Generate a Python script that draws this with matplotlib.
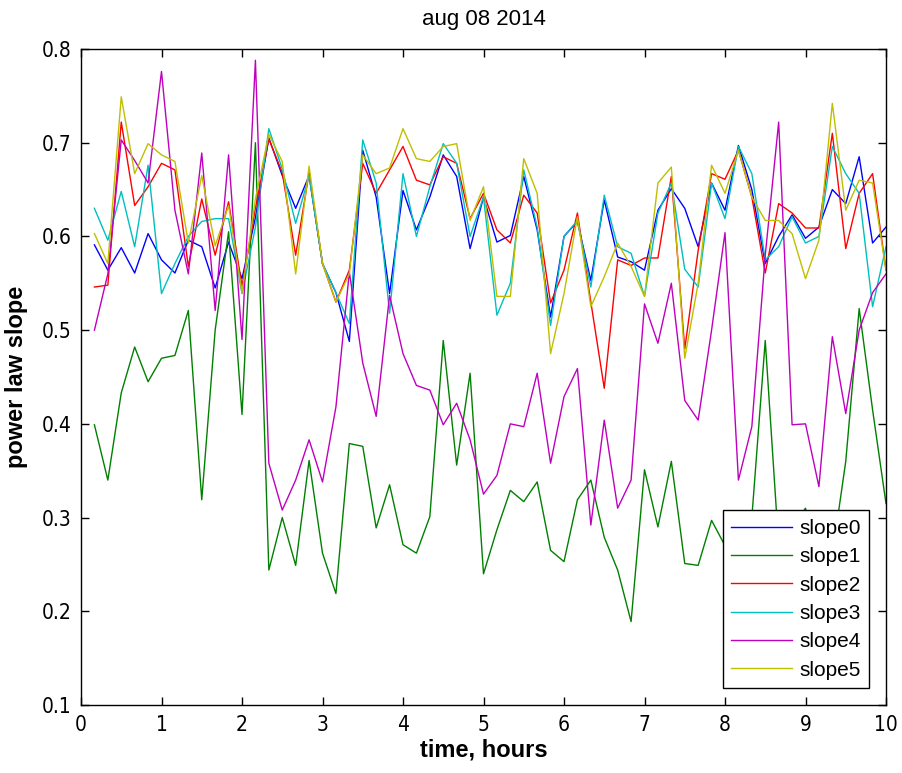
import numpy as np
import matplotlib
matplotlib.use("Agg")
import matplotlib.pyplot as plt

# time axis: 10-minute samples
time_hours = np.arange(1, 61) / 6.0

slope0 = [0.591, 0.564, 0.588, 0.561, 0.603, 0.575, 0.561, 0.596, 0.589, 0.545,
          0.594, 0.555, 0.620, 0.705, 0.665, 0.630, 0.665, 0.571, 0.540, 0.488,
          0.692, 0.642, 0.539, 0.649, 0.607, 0.642, 0.687, 0.664, 0.587, 0.642,
          0.594, 0.601, 0.664, 0.607, 0.514, 0.600, 0.616, 0.553, 0.639, 0.578,
          0.573, 0.564, 0.628, 0.651, 0.630, 0.589, 0.657, 0.628, 0.697, 0.650,
          0.571, 0.600, 0.623, 0.598, 0.610, 0.650, 0.635, 0.685, 0.593, 0.610]
slope1 = [0.399, 0.340, 0.433, 0.482, 0.445, 0.470, 0.473, 0.521, 0.319, 0.500,
          0.605, 0.410, 0.700, 0.244, 0.300, 0.249, 0.361, 0.262, 0.219, 0.379,
          0.376, 0.289, 0.335, 0.271, 0.262, 0.301, 0.489, 0.356, 0.454, 0.240,
          0.287, 0.329, 0.317, 0.338, 0.265, 0.253, 0.319, 0.340, 0.279, 0.244,
          0.189, 0.351, 0.290, 0.360, 0.251, 0.249, 0.297, 0.270, 0.300, 0.300,
          0.489, 0.270, 0.290, 0.310, 0.250, 0.260, 0.360, 0.523, 0.415, 0.315]
slope2 = [0.546, 0.548, 0.722, 0.633, 0.653, 0.678, 0.671, 0.568, 0.640, 0.580,
          0.637, 0.547, 0.630, 0.704, 0.668, 0.580, 0.668, 0.571, 0.530, 0.564,
          0.678, 0.646, 0.671, 0.696, 0.660, 0.655, 0.685, 0.678, 0.619, 0.646,
          0.607, 0.593, 0.644, 0.625, 0.529, 0.564, 0.625, 0.530, 0.438, 0.575,
          0.569, 0.577, 0.577, 0.664, 0.480, 0.585, 0.667, 0.661, 0.692, 0.642,
          0.561, 0.635, 0.625, 0.609, 0.609, 0.710, 0.587, 0.646, 0.667, 0.564]
slope3 = [0.630, 0.596, 0.648, 0.589, 0.676, 0.539, 0.571, 0.600, 0.616, 0.619,
          0.619, 0.539, 0.610, 0.715, 0.672, 0.614, 0.665, 0.571, 0.540, 0.507,
          0.703, 0.657, 0.518, 0.667, 0.600, 0.653, 0.699, 0.678, 0.600, 0.642,
          0.516, 0.550, 0.671, 0.610, 0.505, 0.600, 0.617, 0.546, 0.644, 0.589,
          0.582, 0.536, 0.625, 0.657, 0.565, 0.546, 0.657, 0.619, 0.696, 0.667,
          0.575, 0.589, 0.621, 0.593, 0.600, 0.696, 0.667, 0.646, 0.525, 0.589]
slope4 = [0.500, 0.560, 0.703, 0.681, 0.657, 0.776, 0.628, 0.560, 0.689, 0.521,
          0.687, 0.490, 0.788, 0.358, 0.308, 0.340, 0.383, 0.338, 0.418, 0.562,
          0.465, 0.408, 0.537, 0.475, 0.441, 0.436, 0.399, 0.422, 0.383, 0.325,
          0.345, 0.400, 0.397, 0.454, 0.358, 0.429, 0.459, 0.292, 0.404, 0.310,
          0.340, 0.528, 0.486, 0.550, 0.425, 0.404, 0.500, 0.604, 0.340, 0.397,
          0.580, 0.722, 0.399, 0.400, 0.333, 0.493, 0.411, 0.500, 0.540, 0.560]
slope5 = [0.603, 0.571, 0.749, 0.667, 0.699, 0.687, 0.680, 0.593, 0.665, 0.590,
          0.633, 0.540, 0.640, 0.709, 0.680, 0.560, 0.675, 0.571, 0.530, 0.560,
          0.687, 0.667, 0.673, 0.715, 0.683, 0.680, 0.696, 0.699, 0.617, 0.653,
          0.536, 0.536, 0.683, 0.646, 0.475, 0.539, 0.621, 0.525, 0.557, 0.593,
          0.568, 0.536, 0.657, 0.674, 0.470, 0.550, 0.676, 0.646, 0.692, 0.642,
          0.617, 0.617, 0.603, 0.555, 0.596, 0.742, 0.628, 0.660, 0.657, 0.564]

series_names = ["slope0", "slope1", "slope2", "slope3", "slope4", "slope5"]
series_values = [slope0, slope1, slope2, slope3, slope4, slope5]
series_colors = ["#0000ff", "#008000", "#ff0000", "#00bfbf", "#bf00bf", "#bfbf00"]

x_ticks = list(range(0, 11))
y_ticks = [0.1, 0.2, 0.3, 0.4, 0.5, 0.6, 0.7, 0.8]

plt.rcParams["font.family"] = ["Liberation Sans", "DejaVu Sans"]

fig = plt.figure(figsize=(9.02, 7.73), dpi=100)
ax = fig.add_axes([81 / 902, 1 - 705 / 773, (886 - 81) / 902, (705 - 49) / 773])

for name, vals, col in zip(series_names, series_values, series_colors):
    ax.plot(time_hours, vals, color=col, lw=1.0, label=name)

ax.set_xlim(0, 10)
ax.set_ylim(0.1, 0.8)
ax.set_xticks(x_ticks)
ax.set_yticks(y_ticks)
tick_kw = dict(family="DejaVu Sans", fontstretch="condensed", fontsize=15)
ax.set_xticklabels([str(t) for t in x_ticks], **tick_kw)
ax.set_yticklabels([f"{t:.1f}" for t in y_ticks], **tick_kw)
ax.tick_params(direction="in", top=True, right=True, length=6, width=1, pad=7)
for sp in ax.spines.values():
    sp.set_linewidth(1.0)

ax.set_xlabel("time, hours", fontsize=17, fontweight="bold", labelpad=3)
ax.set_ylabel("power law slope", fontsize=17, fontweight="bold", labelpad=10)
ax.set_title("aug 08 2014", fontsize=16, pad=17)

leg = ax.legend(loc="lower right", fontsize=15, frameon=True, fancybox=False,
                edgecolor="black", framealpha=1, handlelength=2.9,
                handletextpad=0.35, bbox_to_anchor=(869 / 902, 1 - 688 / 773),
                bbox_transform=fig.transFigure, borderaxespad=0,
                labelspacing=0.45, borderpad=0.4)
leg.get_frame().set_linewidth(1.0)

fig.savefig("out.png", dpi=100)
